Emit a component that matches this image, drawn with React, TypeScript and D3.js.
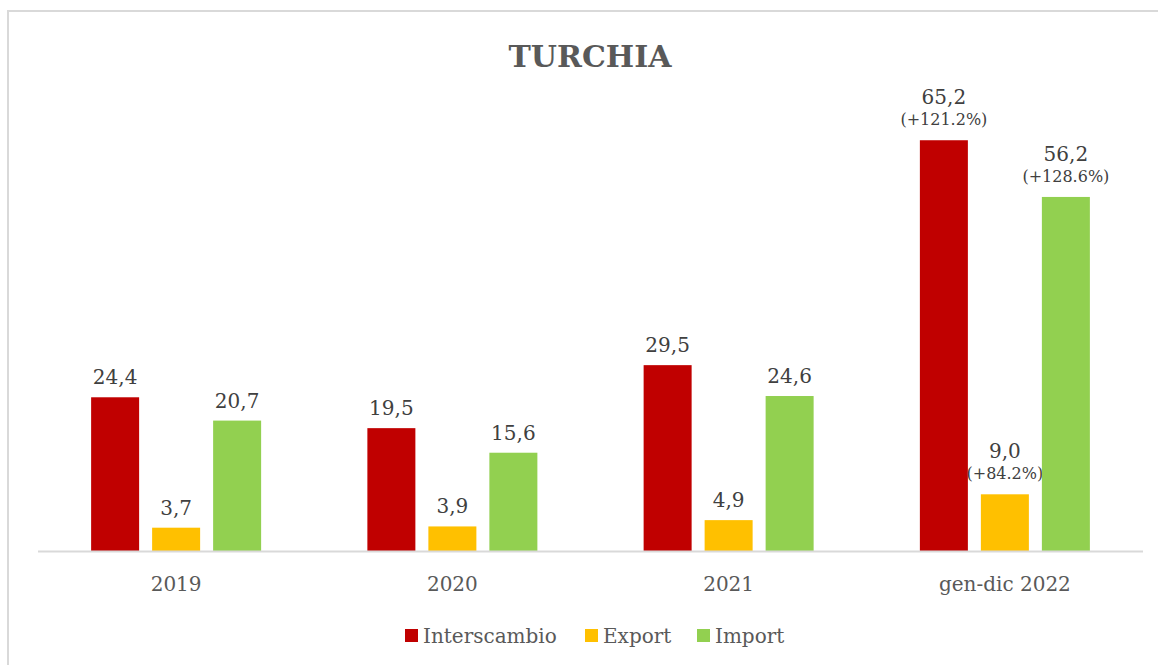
import * as d3 from 'd3';

const categories = ['2019', '2020', '2021', 'gen-dic 2022'];
const seriesNames = ['Interscambio', 'Export', 'Import'];
const interscambio = [24.4, 19.5, 29.5, 65.2];
const exportVals = [3.7, 3.9, 4.9, 9.0];
const importVals = [20.7, 15.6, 24.6, 56.2];
// variation labels shown only for the last period
const interscambioPct = ['', '', '', '(+121.2%)'];
const exportPct = ['', '', '', '(+84.2%)'];
const importPct = ['', '', '', '(+128.6%)'];

const COLORS = ['#C00000', '#FFC000', '#92D050'];
const FONT = '"DejaVu Serif", "Liberation Serif", serif';

const W = 1158;
const H = 665;

export default function App() {
  const margin = { left: 38, right: 15, top: 110, bottom: 114 };
  const baseY = H - margin.bottom;

  const x = d3.scaleBand<string>()
    .domain(categories)
    .range([margin.left, W - margin.right]);

  const inner = d3.scaleBand<string>()
    .domain(seriesNames)
    .range([0, 48 * 3 + 13 * 2])
    .paddingInner(13 / 61);

  const y = d3.scaleLinear().domain([0, 70]).range([baseY, margin.top]);

  const series = [
    { name: seriesNames[0], values: interscambio, pct: interscambioPct, color: COLORS[0] },
    { name: seriesNames[1], values: exportVals, pct: exportPct, color: COLORS[1] },
    { name: seriesNames[2], values: importVals, pct: importPct, color: COLORS[2] },
  ];

  const groupW = inner.range()[1];
  const fmt = (v: number) => v.toFixed(1).replace('.', ',');

  const legendItems = [
    { name: 'Interscambio', x: 405 },
    { name: 'Export', x: 585 },
    { name: 'Import', x: 697 },
  ];

  return (
    <svg
      width={W}
      height={H}
      style={{ position: 'absolute', left: 0, top: 0, background: '#fff' }}
    >
      <rect x={8} y={11} width={W + 10} height={H + 10} fill="#fff" stroke="#d9d9d9" strokeWidth={2} />
      <text
        x={590}
        y={67}
        textAnchor="middle"
        fontFamily={FONT}
        fontWeight="bold"
        fontSize={30}
        fill="#595959"
      >
        TURCHIA
      </text>

      {categories.map((c, ci) => {
        const gx = (x(c) || 0) + (x.bandwidth() - groupW) / 2;
        return (
          <g key={c}>
            {series.map((s) => {
              const v = s.values[ci];
              const bx = gx + (inner(s.name) || 0);
              const bw = inner.bandwidth();
              const top = y(v);
              const hasPct = s.pct[ci] !== '';
              return (
                <g key={s.name}>
                  <rect x={bx} y={top} width={bw} height={baseY - top} fill={s.color} />
                  <text
                    x={bx + bw / 2}
                    y={top - (hasPct ? 36 : 13)}
                    textAnchor="middle"
                    fontFamily={FONT}
                    fontSize={20}
                    fill="#404040"
                  >
                    {fmt(v)}
                  </text>
                  {hasPct && (
                    <text
                      x={bx + bw / 2}
                      y={top - 15}
                      textAnchor="middle"
                      fontFamily={FONT}
                      fontSize={16}
                      fill="#404040"
                    >
                      {s.pct[ci]}
                    </text>
                  )}
                </g>
              );
            })}
            <text
              x={(x(c) || 0) + x.bandwidth() / 2}
              y={591}
              textAnchor="middle"
              fontFamily={FONT}
              fontSize={20}
              fill="#595959"
            >
              {c}
            </text>
          </g>
        );
      })}

      <line x1={margin.left} x2={W - margin.right} y1={baseY + 0.5} y2={baseY + 0.5} stroke="#d9d9d9" strokeWidth={2} />

      {legendItems.map((l, i) => (
        <g key={l.name}>
          <rect x={l.x} y={629} width={13} height={13} fill={COLORS[i]} />
          <text x={l.x + 18} y={643} fontFamily={FONT} fontSize={20} fill="#595959">
            {l.name}
          </text>
        </g>
      ))}
    </svg>
  );
}
